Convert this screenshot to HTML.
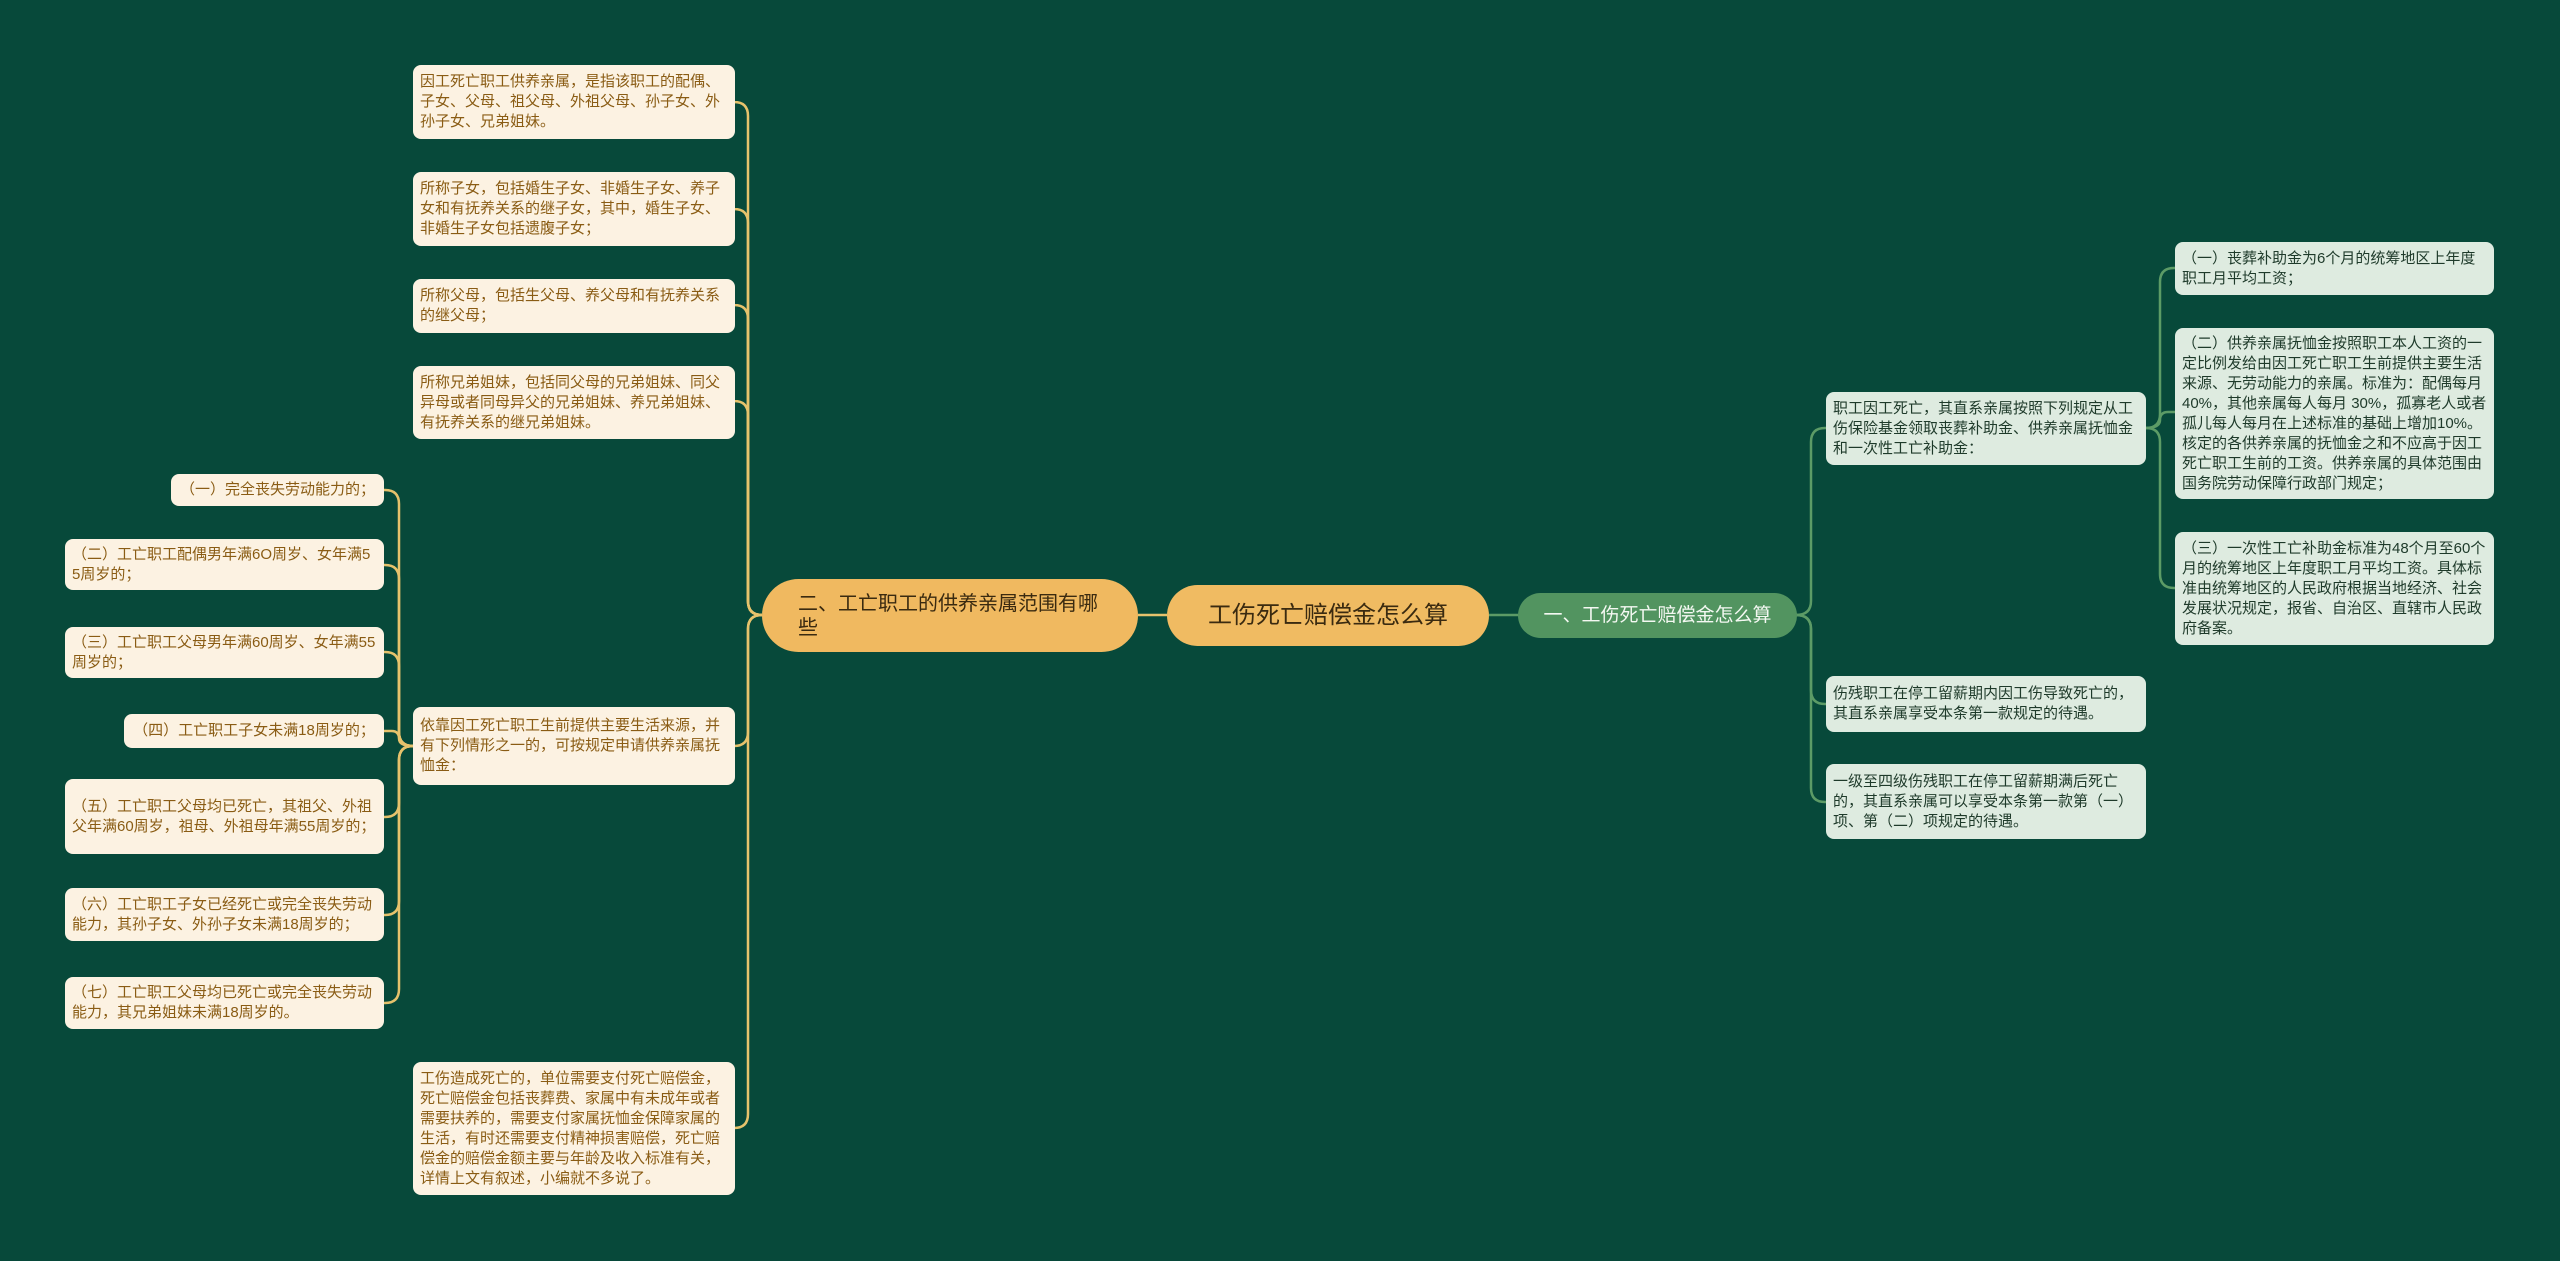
<!DOCTYPE html>
<html><head><meta charset="utf-8"><style>
body{margin:0;width:2560px;height:1261px;background:#07493a;overflow:hidden;position:relative;font-family:"Liberation Sans","Noto Sans CJK SC",sans-serif}
.n{position:absolute;box-sizing:border-box;display:flex;align-items:center;border-radius:8px;font-size:15px;line-height:20px;padding:4px 7px;word-break:break-all}
.l{background:#fcf2e2;color:#8a5c14}
.r{background:#deebe0;color:#1e3a2a}
svg{position:absolute;left:0;top:0}
</style></head><body>
<svg id="s" width="2560" height="1261" fill="none">
<line x1="1138" y1="615" x2="1167" y2="615" stroke="#e6c26c" stroke-width="2.5"/>
<line x1="1489" y1="615" x2="1518" y2="615" stroke="#5c9b66" stroke-width="2.5"/>
</svg>
<script>
(function(){
var s=document.getElementById('s');
function e(px,py,tx,cx,cy,col){
 var dir=cx>tx?1:-1, dy=cy-py, sg=dy>=0?1:-1, r=Math.min(14,Math.abs(dy)/2);
 var d;
 if(Math.abs(dy)<1){d='M'+px+' '+py+' L'+cx+' '+cy;}
 else d='M'+px+' '+py+' Q'+tx+' '+py+' '+tx+' '+(py+sg*r)+' L'+tx+' '+(cy-sg*r)+' Q'+tx+' '+cy+' '+(tx+dir*r)+' '+cy+' L'+cx+' '+cy;
 var p=document.createElementNS('http://www.w3.org/2000/svg','path');
 p.setAttribute('d',d);p.setAttribute('stroke',col);p.setAttribute('stroke-width','2.5');p.setAttribute('fill','none');s.appendChild(p);
}
var Y='#e6c26c',G='#5c9b66';
[102,209,305,401,746,1128].forEach(function(c){e(762,615,748,735,c,Y);});
[490,565,652,731,817,915,1003].forEach(function(c){e(413,746,399,384,c,Y);});
[428,704,802].forEach(function(c){e(1796,615,1811,1826,c,G);});
[268,412,588].forEach(function(c){e(2146,428,2160,2175,c,G);});
})();
</script>

<div class="n" style="left:1167px;top:585px;width:322px;height:61px;border-radius:31px;background:#f0bb62;color:#3a2a10;font-size:24px;justify-content:center">工伤死亡赔偿金怎么算</div>
<div class="n" style="left:762px;top:579px;width:376px;height:73px;border-radius:37px;background:#f0b960;color:#3a2a10;font-size:20px;line-height:24px;padding:0 36px">二、工亡职工的供养亲属范围有哪些</div>
<div class="n" style="left:1518px;top:593px;width:279px;height:45px;border-radius:23px;background:#529460;color:#f4f8f2;font-size:19px;justify-content:center">一、工伤死亡赔偿金怎么算</div>

<div class="n l" style="left:413px;top:65px;width:322px;height:74px">因工死亡职工供养亲属，是指该职工的配偶、子女、父母、祖父母、外祖父母、孙子女、外孙子女、兄弟姐妹。</div>
<div class="n l" style="left:413px;top:172px;width:322px;height:74px">所称子女，包括婚生子女、非婚生子女、养子女和有抚养关系的继子女，其中，婚生子女、非婚生子女包括遗腹子女；</div>
<div class="n l" style="left:413px;top:279px;width:322px;height:54px">所称父母，包括生父母、养父母和有抚养关系的继父母；</div>
<div class="n l" style="left:413px;top:366px;width:322px;height:73px">所称兄弟姐妹，包括同父母的兄弟姐妹、同父异母或者同母异父的兄弟姐妹、养兄弟姐妹、有抚养关系的继兄弟姐妹。</div>
<div class="n l" style="left:413px;top:707px;width:322px;height:78px">依靠因工死亡职工生前提供主要生活来源，并有下列情形之一的，可按规定申请供养亲属抚恤金：</div>
<div class="n l" style="left:413px;top:1062px;width:322px;height:133px">工伤造成死亡的，单位需要支付死亡赔偿金，死亡赔偿金包括丧葬费、家属中有未成年或者需要扶养的，需要支付家属抚恤金保障家属的生活，有时还需要支付精神损害赔偿，死亡赔偿金的赔偿金额主要与年龄及收入标准有关，详情上文有叙述，小编就不多说了。</div>

<div class="n l" style="left:171px;top:474px;width:213px;height:32px;justify-content:center">（一）完全丧失劳动能力的；</div>
<div class="n l" style="left:65px;top:539px;width:319px;height:51px">（二）工亡职工配偶男年满6O周岁、女年满55周岁的；</div>
<div class="n l" style="left:65px;top:627px;width:319px;height:51px">（三）工亡职工父母男年满60周岁、女年满55周岁的；</div>
<div class="n l" style="left:124px;top:714px;width:260px;height:34px;justify-content:center">（四）工亡职工子女未满18周岁的；</div>
<div class="n l" style="left:65px;top:779px;width:319px;height:75px">（五）工亡职工父母均已死亡，其祖父、外祖父年满60周岁，祖母、外祖母年满55周岁的；</div>
<div class="n l" style="left:65px;top:888px;width:319px;height:53px">（六）工亡职工子女已经死亡或完全丧失劳动能力，其孙子女、外孙子女未满18周岁的；</div>
<div class="n l" style="left:65px;top:977px;width:319px;height:52px">（七）工亡职工父母均已死亡或完全丧失劳动能力，其兄弟姐妹未满18周岁的。</div>

<div class="n r" style="left:1826px;top:392px;width:320px;height:73px">职工因工死亡，其直系亲属按照下列规定从工伤保险基金领取丧葬补助金、供养亲属抚恤金和一次性工亡补助金：</div>
<div class="n r" style="left:1826px;top:676px;width:320px;height:56px">伤残职工在停工留薪期内因工伤导致死亡的，其直系亲属享受本条第一款规定的待遇。</div>
<div class="n r" style="left:1826px;top:764px;width:320px;height:75px">一级至四级伤残职工在停工留薪期满后死亡的，其直系亲属可以享受本条第一款第（一）项、第（二）项规定的待遇。</div>
<div class="n r" style="left:2175px;top:242px;width:319px;height:53px">（一）丧葬补助金为6个月的统筹地区上年度职工月平均工资；</div>
<div class="n r" style="left:2175px;top:328px;width:319px;height:171px">（二）供养亲属抚恤金按照职工本人工资的一定比例发给由因工死亡职工生前提供主要生活来源、无劳动能力的亲属。标准为：配偶每月40%，其他亲属每人每月 30%，孤寡老人或者孤儿每人每月在上述标准的基础上增加10%。核定的各供养亲属的抚恤金之和不应高于因工死亡职工生前的工资。供养亲属的具体范围由国务院劳动保障行政部门规定；</div>
<div class="n r" style="left:2175px;top:532px;width:319px;height:113px">（三）一次性工亡补助金标准为48个月至60个月的统筹地区上年度职工月平均工资。具体标准由统筹地区的人民政府根据当地经济、社会发展状况规定，报省、自治区、直辖市人民政府备案。</div>
</body></html>
